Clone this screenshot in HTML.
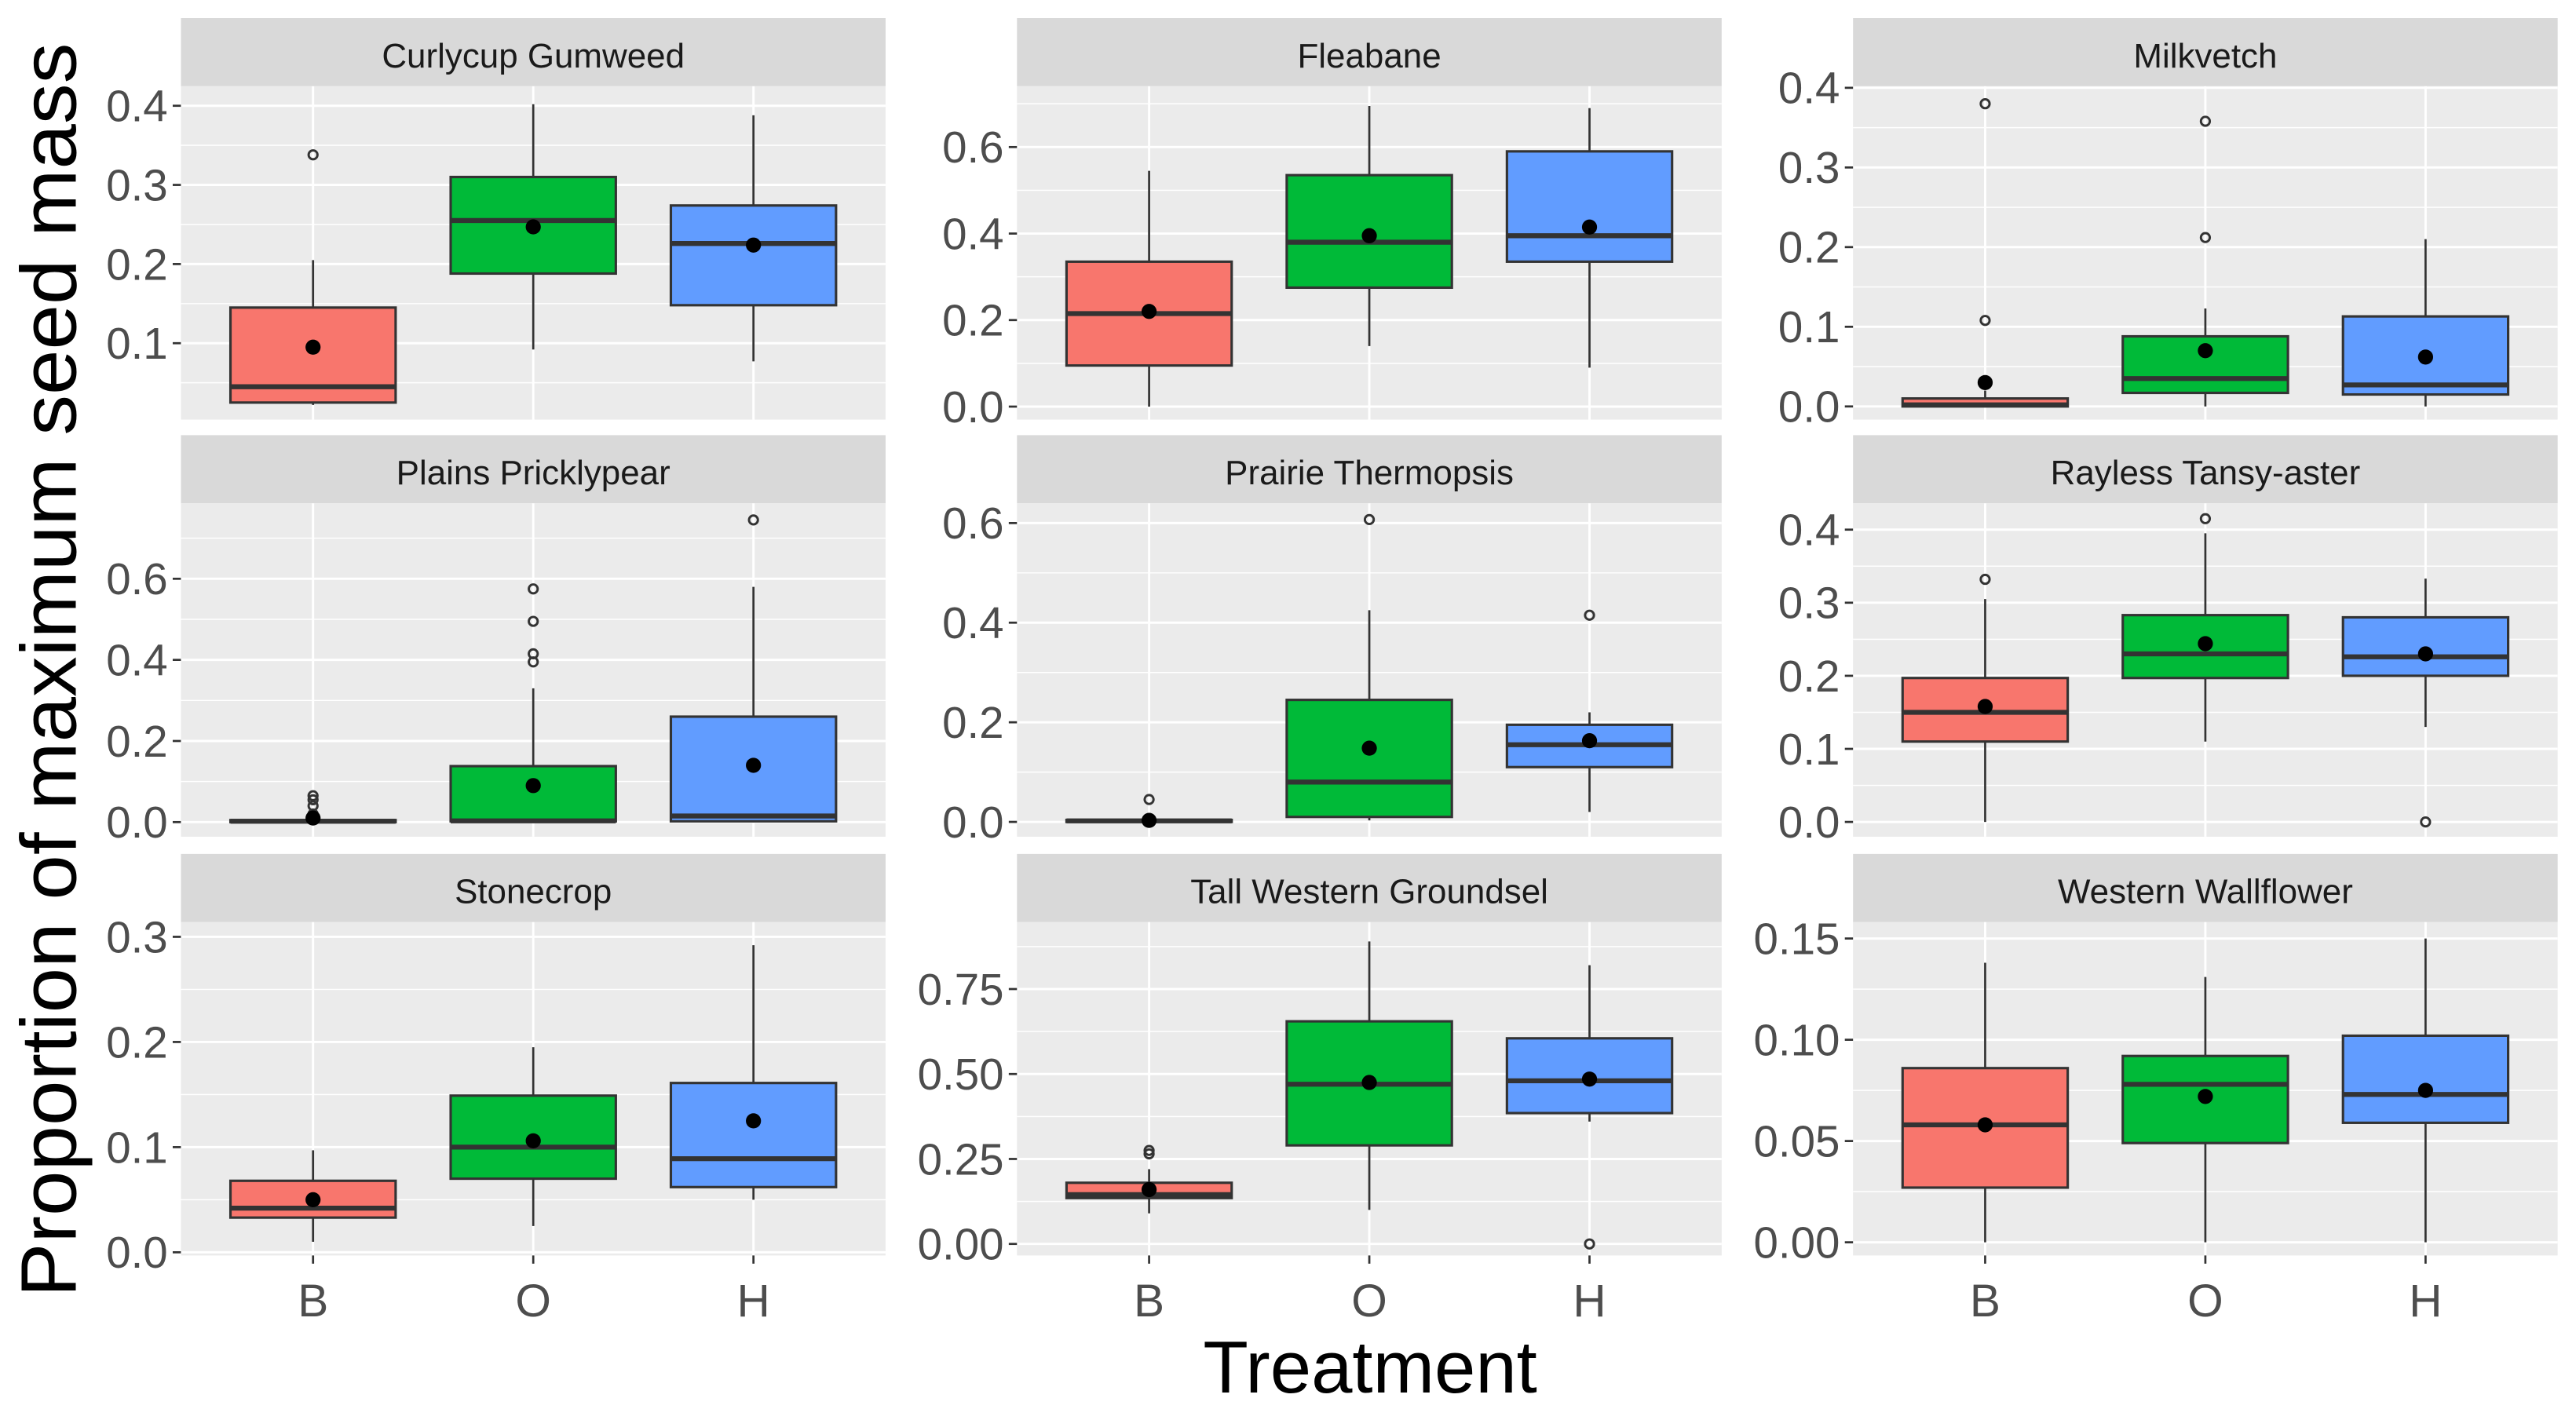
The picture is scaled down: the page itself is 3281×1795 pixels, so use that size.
<!DOCTYPE html>
<html><head><meta charset="utf-8"><style>
html,body{margin:0;padding:0;background:#fff;}
svg{display:block;}
</style></head><body>
<svg id="chart" width="3281" height="1795" viewBox="0 0 1568 858" xmlns="http://www.w3.org/2000/svg" font-family="Liberation Sans, Arial, sans-serif">
<text transform="translate(46,408) rotate(-90) scale(1.03,1)" text-anchor="middle" font-size="48" fill="#000">Proportion of maximum seed mass</text>
<text x="834" y="848" text-anchor="middle" font-size="45" fill="#000">Treatment</text>
<g id="panels"></g>
</svg>
<script>
const categories = ["B","O","H"];
const panelNames = ["Curlycup Gumweed","Fleabane","Milkvetch","Plains Pricklypear","Prairie Thermopsis","Rayless Tansy-aster","Stonecrop","Tall Western Groundsel","Western Wallflower"];
const yDomains = [[0.0035,0.4247],[-0.030,0.7406],[-0.0165,0.402],[-0.036,0.786],[-0.0297,0.6396],[-0.0202,0.436],[-0.003,0.314],[-0.0339,0.947],[-0.0065,0.1581]];
const yTicks = [[0.1,0.2,0.3,0.4],[0,0.2,0.4,0.6],[0,0.1,0.2,0.3,0.4],[0,0.2,0.4,0.6],[0,0.2,0.4,0.6],[0,0.1,0.2,0.3,0.4],[0,0.1,0.2,0.3],[0,0.25,0.5,0.75],[0,0.05,0.1,0.15]];
const yTickLabels = [["0.1","0.2","0.3","0.4"],["0.0","0.2","0.4","0.6"],["0.0","0.1","0.2","0.3","0.4"],["0.0","0.2","0.4","0.6"],["0.0","0.2","0.4","0.6"],["0.0","0.1","0.2","0.3","0.4"],["0.0","0.1","0.2","0.3"],["0.00","0.25","0.50","0.75"],["0.00","0.05","0.10","0.15"]];
// each box: [lower whisker, q1, median, q3, upper whisker]
const boxStats = [
 [[0.022,0.025,0.045,0.145,0.205],[0.092,0.188,0.255,0.31,0.402],[0.077,0.148,0.226,0.274,0.388]],
 [[0.0,0.095,0.215,0.335,0.545],[0.14,0.275,0.38,0.535,0.695],[0.09,0.335,0.395,0.59,0.69]],
 [[0.0,0.0,0.002,0.01,0.02],[0.0,0.017,0.035,0.088,0.123],[0.0,0.015,0.027,0.113,0.21]],
 [[0.0,0.0,0.002,0.005,0.008],[0.0,0.002,0.003,0.138,0.33],[0.0,0.002,0.015,0.26,0.58]],
 [[0.0,0.0,0.002,0.004,0.006],[0.003,0.01,0.08,0.245,0.425],[0.02,0.11,0.155,0.195,0.22]],
 [[0.0,0.11,0.15,0.197,0.305],[0.11,0.197,0.23,0.283,0.395],[0.13,0.2,0.226,0.28,0.333]],
 [[0.01,0.033,0.042,0.068,0.097],[0.025,0.07,0.1,0.149,0.195],[0.05,0.062,0.089,0.161,0.292]],
 [[0.09,0.135,0.145,0.18,0.22],[0.1,0.29,0.47,0.655,0.89],[0.36,0.385,0.48,0.605,0.82]],
 [[0.0,0.027,0.058,0.086,0.138],[0.0,0.049,0.078,0.092,0.131],[0.0,0.059,0.073,0.102,0.15]]
];
const means = [[0.095,0.247,0.224],[0.22,0.395,0.415],[0.03,0.07,0.062],[0.01,0.09,0.14],[0.003,0.148,0.163],[0.158,0.244,0.23],[0.05,0.106,0.125],[0.16,0.475,0.485],[0.058,0.072,0.075]];
const outliers = [
 [[0.338],[],[]],
 [[],[],[]],
 [[0.38,0.108,0.03],[0.358,0.212],[]],
 [[0.02,0.04,0.055,0.065],[0.395,0.415,0.495,0.575],[0.745]],
 [[0.045],[0.607],[0.415]],
 [[0.332],[0.415],[0.0]],
 [[],[],[]],
 [[0.265,0.275],[],[0.0]],
 [[],[],[]]
];
const fills = ["#F8766D","#00BA38","#619CFF"];
const colX = [110,619,1128], colW = 429;
const rowStrip = [11,265,520], stripH = 41.5, panelH = 203;
const NS = "http://www.w3.org/2000/svg";
const root = document.getElementById('panels');
function mk(tag, attrs, parent){const e=document.createElementNS(NS,tag);for(const k in attrs)e.setAttribute(k,attrs[k]);parent.appendChild(e);return e;}
panelNames.forEach((name,p)=>{
  const c=p%3, r=Math.floor(p/3);
  const x0=colX[c], st=rowStrip[r], top=st+stripH, bot=top+panelH;
  const [lo,hi]=yDomains[p];
  const y=v=>bot-(v-lo)/(hi-lo)*panelH;
  const xs=i=>x0+(0.6+i)*colW/3.2;
  const g=mk('g',{},root);
  
  
  const strip=mk('rect',{x:x0,y:st,width:colW,height:stripH,fill:'#D9D9D9'},g);
  
  
  const st_t=mk('text',{x:x0+colW/2,y:st+30,'text-anchor':'middle','font-size':'21',fill:'#1A1A1A'},g);
  st_t.textContent=name;
  
  
  const bg=mk('rect',{x:x0,y:top,width:colW,height:panelH,fill:'#EBEBEB'},g);
  
  
  const ticks=yTicks[p];
  const step=ticks[1]-ticks[0];
  for(let v=ticks[0]-step/2; v<=hi; v+=step){ if(v<lo) continue;
    const l=mk('line',{x1:x0,x2:x0+colW,y1:y(v),y2:y(v),stroke:'#fff','stroke-width':0.7},g);
    
    }
  ticks.forEach((v,i)=>{
    const l=mk('line',{x1:x0,x2:x0+colW,y1:y(v),y2:y(v),stroke:'#fff','stroke-width':1.4},g);
    
    
    const tk=mk('line',{x1:x0-5,x2:x0,y1:y(v),y2:y(v),stroke:'#333','stroke-width':1.3},g);
    
    
    const t=mk('text',{x:x0-8,y:y(v)+9.5,'text-anchor':'end','font-size':'27',fill:'#4D4D4D'},g);
    t.textContent=yTickLabels[p][i];
    
    
  });
  categories.forEach((cat,i)=>{
    const cx=xs(i);
    const vl=mk('line',{x1:cx,x2:cx,y1:top,y2:bot,stroke:'#fff','stroke-width':1.4},g);
    
    
    if(r===2){
      const tk=mk('line',{x1:cx,x2:cx,y1:bot,y2:bot+5,stroke:'#333','stroke-width':1.3},g);
      
      
      const t=mk('text',{x:cx,y:bot+37,'text-anchor':'middle','font-size':'28',fill:'#4D4D4D'},g);
      t.textContent=cat;
      
      
    }
  });
  categories.forEach((cat,i)=>{
    const cx=xs(i), hw=colW/3.2*0.375;
    const s=boxStats[p][i];
    const bx=mk('g',{},g);
    
    
    mk('line',{x1:cx,x2:cx,y1:y(s[4]),y2:y(s[3]),stroke:'#333','stroke-width':1.3},bx);
    mk('line',{x1:cx,x2:cx,y1:y(s[1]),y2:y(s[0]),stroke:'#333','stroke-width':1.3},bx);
    mk('rect',{x:cx-hw,y:y(s[3]),width:2*hw,height:Math.max(0.5,y(s[1])-y(s[3])),fill:fills[i],stroke:'#333','stroke-width':1.5},bx);
    mk('line',{x1:cx-hw,x2:cx+hw,y1:y(s[2]),y2:y(s[2]),stroke:'#333','stroke-width':3},bx);
    outliers[p][i].forEach(v=>{
      const o=mk('circle',{cx:cx,cy:y(v),r:2.7,fill:'none',stroke:'#333','stroke-width':1.4},bx);
      
      
    });
    const m=mk('circle',{cx:cx,cy:y(means[p][i]),r:4.6,fill:'#000'},bx);
    
    
  });
});
</script>
</body></html>
